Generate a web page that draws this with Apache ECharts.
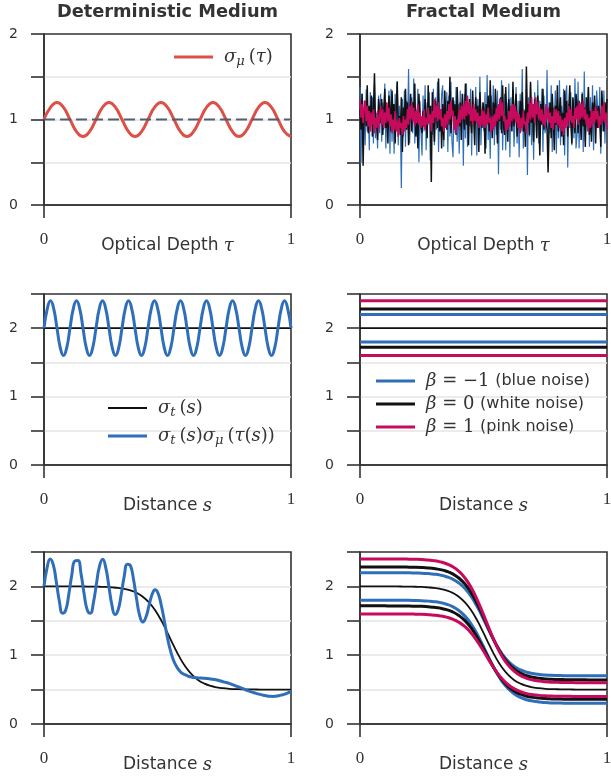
<!DOCTYPE html>
<html><head><meta charset="utf-8">
<script src="https://cdn.jsdelivr.net/npm/echarts@6/dist/echarts.min.js"></script>
<style>html,body{margin:0;padding:0;background:#fff}#c{width:611px;height:780px}</style>
</head><body><div id="c"></div>
<script>
// ---------- data ----------
// sigma_mu(tau), sampled every 1/38 in tau
const SIGMA_MU = [
 1,1.141,1.2,1.141,1,0.859,0.8,0.859,
 1,1.141,1.2,1.141,1,0.859,0.8,0.859,
 1,1.141,1.2,1.141,1,0.859,0.8,0.859,
 1,1.141,1.2,1.141,1,0.859,0.8,0.859,
 1,1.141,1.2,1.141,1,0.859,0.8];
const SIGMA_MU_REF = 1;
// sigma_t(s) sigma_mu(tau(s)) for constant sigma_t, sampled every 1/76 in s
const MID_PRODUCT = [
 2,2.283,2.4,2.283,2,1.717,1.6,1.717,
 2,2.283,2.4,2.283,2,1.717,1.6,1.717,
 2,2.283,2.4,2.283,2,1.717,1.6,1.717,
 2,2.283,2.4,2.283,2,1.717,1.6,1.717,
 2,2.283,2.4,2.283,2,1.717,1.6,1.717,
 2,2.283,2.4,2.283,2,1.717,1.6,1.717,
 2,2.283,2.4,2.283,2,1.717,1.6,1.717,
 2,2.283,2.4,2.283,2,1.717,1.6,1.717,
 2,2.283,2.4,2.283,2,1.717,1.6,1.717,
 2,2.283,2.4,2.283,2];
const SIGMA_T_CONST = 2.0;
// fractal noise samples (240 each, evenly spaced in tau)
const NOISE_BLUE = [
 1.38,0.49,1.30,0.82,1.22,0.70,1.35,0.86,1.14,0.64,
 1.32,0.95,1.26,0.72,1.42,0.78,1.08,0.66,1.28,0.84,
 1.30,0.74,1.20,0.88,1.42,0.66,1.16,0.92,1.34,0.60,
 1.36,0.74,1.18,0.60,1.30,0.90,1.45,0.70,1.16,0.98,
 0.20,1.24,0.80,1.34,0.68,1.22,0.92,1.59,0.72,1.10,
 1.26,0.84,1.48,0.72,1.12,0.96,1.36,0.50,1.22,0.86,
 0.58,1.28,0.86,1.40,0.64,1.20,0.94,1.32,0.52,1.16,
 0.82,1.36,0.70,1.26,0.88,1.44,0.62,1.12,0.96,1.30,
 1.40,0.68,1.18,0.90,1.32,0.62,1.28,0.80,1.44,0.74,
 0.56,1.22,0.84,1.38,0.74,1.18,0.60,1.34,0.90,1.24,
 0.46,1.30,0.78,1.42,0.68,1.14,0.92,1.36,0.58,1.20,
 1.14,0.94,1.38,0.58,1.24,0.82,1.50,0.70,1.10,0.98,
 0.86,1.32,0.66,1.52,0.76,1.10,0.54,1.28,0.94,1.40,
 0.70,1.18,0.82,1.34,0.36,1.24,0.88,1.46,0.64,1.16,
 1.30,0.64,1.20,0.86,1.42,0.56,1.26,0.92,1.34,0.68,
 0.96,1.38,0.72,1.22,0.56,1.30,0.86,1.59,0.66,1.12,
 0.90,1.36,0.35,1.26,0.80,1.42,0.70,1.18,0.53,1.32,
 1.16,0.80,1.46,0.72,1.22,0.96,1.36,0.62,1.28,0.84,
 0.92,1.58,0.68,1.20,0.84,1.40,0.62,1.14,0.98,1.34,
 0.60,1.24,0.78,1.46,0.70,1.16,0.88,1.36,0.58,1.28,
 1.40,0.44,1.18,0.90,1.32,0.70,1.24,0.78,1.48,0.66,
 0.82,1.44,0.66,1.20,0.94,1.32,0.62,1.56,0.74,1.18,
 0.86,1.38,0.68,1.26,0.80,1.40,0.64,1.22,0.90,1.34,
 1.12,0.94,1.38,0.60,1.26,0.86,1.34,0.72,1.20,0.88];
const NOISE_WHITE = [
 1.12,0.88,1.30,0.46,1.05,1.22,0.92,1.40,0.84,1.16,
 0.98,1.28,0.80,1.10,1.54,0.90,1.02,0.76,1.24,1.08,
 0.96,1.24,0.82,1.10,1.36,0.90,1.04,0.72,1.28,1.14,
 0.86,1.34,0.96,1.18,0.72,1.12,1.44,0.94,1.04,0.82,
 1.26,0.62,1.14,0.98,1.36,0.88,1.20,0.70,1.06,1.30,
 0.86,1.20,0.98,1.42,0.80,1.08,0.66,1.30,1.02,0.92,
 0.84,1.10,0.92,1.24,1.02,0.78,1.40,0.96,1.16,0.27,
 1.32,1.00,0.74,1.22,1.08,0.90,1.48,0.86,1.12,0.66,
 1.18,0.76,1.34,1.06,0.88,1.22,0.94,1.50,0.84,1.12,
 1.26,0.98,1.18,0.82,1.38,1.04,0.92,1.20,0.76,1.30,
 1.06,0.88,1.42,0.94,1.14,0.70,1.24,1.00,0.84,1.34,
 1.00,0.70,1.26,0.96,1.16,0.62,1.32,1.08,0.90,1.20,
 1.10,0.60,1.18,0.96,1.28,0.86,1.46,1.02,0.78,1.20,
 0.92,1.36,1.08,0.72,1.16,0.98,1.26,0.84,1.40,0.90,
 0.82,1.38,1.04,0.74,1.24,0.98,1.14,0.86,1.44,0.92,
 1.12,1.30,0.80,1.04,0.90,1.22,0.94,1.32,0.86,1.10,
 0.68,1.62,1.00,1.18,0.82,1.44,0.96,1.14,0.74,1.24,
 1.10,0.78,1.28,1.02,0.58,1.18,0.94,1.36,0.88,1.06,
 1.06,0.88,0.38,0.92,1.20,0.78,1.30,1.02,0.64,1.16,
 0.94,1.40,0.86,1.12,1.26,0.80,1.08,0.70,1.34,0.98,
 1.22,0.80,1.12,1.40,0.96,0.72,1.26,1.04,0.84,1.30,
 1.18,0.84,1.22,1.04,0.76,1.30,0.92,1.14,0.68,1.26,
 1.00,1.38,0.82,1.10,0.74,1.20,0.96,1.28,0.72,1.16,
 0.90,1.16,1.00,0.68,1.34,1.08,0.86,1.20,0.98,1.24];
const NOISE_PINK = [
 1.24,1.02,1.18,0.96,1.14,1.22,0.98,1.16,0.92,1.10,
 0.86,1.08,0.94,1.12,0.84,1.02,0.90,1.10,0.88,1.04,
 1.16,0.94,1.12,0.90,1.08,0.96,1.20,0.98,1.14,0.92,
 1.06,0.84,1.00,0.88,1.10,0.86,0.98,0.80,1.02,0.90,
 0.96,0.82,1.04,0.86,1.00,0.90,1.12,0.94,1.16,1.00,
 1.20,0.98,1.14,0.92,1.10,0.96,1.18,0.94,1.08,0.90,
 1.04,0.92,1.12,0.88,1.02,0.94,1.14,0.96,1.06,0.86,
 1.10,0.96,1.24,1.02,1.16,0.98,1.20,1.00,1.12,0.92,
 1.02,0.86,1.06,0.90,1.10,0.94,1.18,1.00,1.22,1.04,
 1.10,0.88,1.04,0.84,1.00,0.92,1.12,0.96,1.16,1.00,
 1.18,1.00,1.22,1.04,1.28,1.06,1.20,0.98,1.14,0.94,
 1.18,0.98,1.12,0.96,1.08,0.90,1.04,0.92,1.12,0.94,
 1.10,0.90,1.06,0.94,1.14,0.96,1.02,0.84,1.04,0.88,
 1.06,0.92,1.14,0.98,1.18,1.00,1.24,1.04,1.20,0.98,
 1.04,0.86,1.00,0.88,1.10,0.92,1.16,0.98,1.18,1.00,
 1.16,0.96,1.10,0.90,1.06,0.84,1.02,0.90,1.10,0.94,
 0.98,0.84,1.08,0.96,1.20,1.00,1.26,1.02,1.18,0.96,
 1.26,1.06,1.20,1.00,1.14,0.98,1.12,0.94,1.06,0.92,
 1.18,1.00,1.14,0.96,1.08,0.90,1.04,0.88,1.12,0.96,
 1.12,0.94,1.10,0.90,1.04,0.86,1.00,0.82,1.02,0.90,
 1.08,0.92,1.16,0.98,1.12,0.96,1.04,0.90,1.14,1.00,
 1.16,0.94,1.20,1.00,1.18,1.02,1.22,1.00,1.12,0.94,
 1.06,0.86,1.02,0.90,1.12,0.92,1.10,0.96,1.16,1.00,
 1.10,0.90,1.04,0.94,1.16,0.98,1.20,0.96,1.08,0.88];
// bounds of sigma_t * sigma_mu for constant sigma_t
const LEVELS_BLUE = [2.2, 1.8];
const LEVELS_WHITE = [2.28, 1.72];
const LEVELS_PINK = [2.4, 1.6];
// step medium, sampled every 0.025 in s
const STEP_SIGMA_T = [2.0,2.0,2.0,2.0,2.0,1.999,1.999,1.998,1.997,1.995,1.992,1.986,1.978,1.964,1.941,1.906,1.850,1.768,1.653,1.502,1.325,1.138,0.965,0.821,0.713,0.637,0.586,0.553,0.533,0.520,0.512,0.507,0.505,0.503,0.502,0.501,0.501,0.5,0.5,0.5,0.5];
const STEP_PINK_HI = [2.4,2.4,2.4,2.4,2.4,2.399,2.399,2.398,2.396,2.394,2.39,2.383,2.374,2.357,2.329,2.287,2.22,2.122,1.984,1.802,1.59,1.366,1.158,0.985,0.856,0.764,0.703,0.664,0.64,0.624,0.614,0.608,0.606,0.604,0.602,0.601,0.601,0.6,0.6,0.6,0.6];
const STEP_PINK_LO = [1.6,1.6,1.6,1.6,1.6,1.599,1.599,1.598,1.598,1.596,1.594,1.589,1.582,1.571,1.553,1.525,1.48,1.414,1.322,1.202,1.06,0.910,0.772,0.657,0.570,0.510,0.469,0.442,0.426,0.416,0.410,0.406,0.404,0.402,0.402,0.401,0.401,0.4,0.4,0.4,0.4];
const STEP_BLUE_HI = [2.2,2.2,2.2,2.2,2.2,2.199,2.199,2.198,2.197,2.195,2.192,2.186,2.178,2.164,2.141,2.106,2.05,1.968,1.853,1.702,1.525,1.338,1.165,1.021,0.913,0.837,0.786,0.753,0.733,0.72,0.712,0.707,0.705,0.703,0.702,0.701,0.701,0.7,0.7,0.7,0.7];
const STEP_BLUE_LO = [1.8,1.8,1.8,1.8,1.8,1.799,1.799,1.798,1.797,1.795,1.792,1.786,1.778,1.764,1.741,1.706,1.65,1.568,1.453,1.302,1.125,0.938,0.765,0.621,0.513,0.437,0.386,0.353,0.333,0.32,0.312,0.307,0.305,0.303,0.302,0.301,0.301,0.3,0.3,0.3,0.3];
const STEP_WHITE_HI = [2.283,2.283,2.283,2.283,2.283,2.282,2.282,2.281,2.280,2.278,2.274,2.268,2.259,2.244,2.220,2.182,2.122,2.034,1.910,1.747,1.555,1.351,1.161,1.002,0.882,0.797,0.739,0.702,0.679,0.664,0.655,0.649,0.647,0.645,0.644,0.643,0.643,0.641,0.641,0.641,0.641];
const STEP_WHITE_LO = [1.717,1.717,1.717,1.717,1.717,1.716,1.716,1.715,1.714,1.712,1.710,1.704,1.697,1.684,1.662,1.630,1.578,1.502,1.396,1.257,1.095,0.925,0.769,0.640,0.544,0.477,0.433,0.404,0.387,0.376,0.369,0.365,0.363,0.361,0.360,0.359,0.359,0.359,0.359,0.359,0.359];
// sigma_t(s) sigma_mu(tau(s)) for the step medium, sampled every 0.0125 in s
const STEP_PRODUCT = [
 2.0,2.272,2.399,2.315,2.063,1.778,1.611,1.650,1.876,2.167,
 2.370,2.375,2.182,1.891,1.659,1.608,1.762,2.043,2.298,2.393,
 2.274,2.006,1.729,1.590,1.658,1.878,2.151,2.322,2.301,2.099,
 1.812,1.574,1.481,1.551,1.719,1.882,1.953,1.894,1.722,1.494,
 1.25,1.06,0.92,0.83,0.77,0.73,0.71,0.69,
 0.68,0.675,0.67,0.667,0.665,0.66,0.655,0.648,0.64,0.628,0.615,0.603,0.59,0.573,0.555,0.538,0.52,0.502,0.485,0.47,0.455,0.442,0.43,0.419,0.41,0.403,0.40,0.403,0.41,0.421,0.435,0.452,0.47];
const X_TICKS = [0, 1];
const Y_MAX_TOP = 2, Y_MAX_LOW = 2.5;

// ---------- styling ----------
const FRAME = '#333333', GRIDC = '#e4e4e4';
const RED = '#dd5048', BLUE = '#2f6fba', PINK = '#c80a5c', BLACK = '#111111', SLATE = '#4f6070';
const even = arr => arr.map((v, i) => [i / (arr.length - 1), v]);
const flat = v => [[0, v], [1, v]];

const GRIDS = [
  {left: 44, top: 34, width: 247, height: 171},
  {left: 360, top: 34, width: 247, height: 171},
  {left: 44, top: 294, width: 247, height: 171},
  {left: 360, top: 294, width: 247, height: 171},
  {left: 44, top: 552, width: 247, height: 172},
  {left: 360, top: 552, width: 247, height: 172}
].map(g => Object.assign({show: true, borderColor: FRAME, borderWidth: 1.6, backgroundColor: 'transparent', containLabel: false, outerBoundsMode: 'none'}, g));

const NAMES = ['Optical Depth {i|τ}', 'Optical Depth {i|τ}', 'Distance {i|s}', 'Distance {i|s}', 'Distance {i|s}', 'Distance {i|s}'];
const xAxes = GRIDS.map((g, k) => ({
  type: 'value', gridIndex: k, min: X_TICKS[0], max: X_TICKS[1], interval: 1,
  axisLine: {show: true, lineStyle: {color: FRAME, width: 1.6}},
  axisTick: {show: true, length: 13, lineStyle: {color: FRAME, width: 1.6}},
  axisLabel: {fontFamily: 'Liberation Serif', fontSize: 17, color: '#333', margin: 26},
  splitLine: {show: false},
  name: NAMES[k], nameLocation: 'middle', nameGap: 32, nameMoveOverlap: false,
  nameTextStyle: {fontFamily: 'DejaVu Sans', fontSize: 17, color: '#333',
    rich: {i: {fontFamily: 'DejaVu Serif', fontStyle: 'italic', fontSize: 18, color: '#333'}}}
}));
const yAxes = GRIDS.map((g, k) => ({
  type: 'value', gridIndex: k, min: 0, max: k < 2 ? Y_MAX_TOP : Y_MAX_LOW, interval: 0.5,
  axisLine: {show: true, lineStyle: {color: FRAME, width: 1.6}},
  axisTick: {show: true, length: 13, lineStyle: {color: FRAME, width: 1.6}},
  axisLabel: {fontFamily: 'DejaVu Sans', fontSize: 14, color: '#333', margin: 26,
    formatter: v => (Number.isInteger(v) ? String(v) : '')},
  splitLine: {show: true, showMinLine: false, showMaxLine: false, lineStyle: {color: GRIDC, width: 1.5}}
}));

function line(name, k, data, color, width, extra) {
  return Object.assign({type: 'line', name, xAxisIndex: k, yAxisIndex: k, data, symbol: 'none', showSymbol: false,
    lineStyle: {color, width}, itemStyle: {color}, silent: true, animation: false}, extra || {});
}
const SM = {smooth: 0.5};

const series = [
  line('sm', 0, even(SIGMA_MU), RED, 3, SM),
  line('ref', 0, flat(SIGMA_MU_REF), SLATE, 2, {lineStyle: {color: SLATE, width: 2, type: [11, 5]}}),

  line('nb', 1, even(NOISE_BLUE), BLUE, 1.2),
  line('nw', 1, even(NOISE_WHITE), BLACK, 1.5),
  line('np', 1, even(NOISE_PINK), PINK, 1.6),

  line('st', 2, flat(SIGMA_T_CONST), BLACK, 1.8),
  line('stsm', 2, even(MID_PRODUCT), BLUE, 3, SM),

  line('st', 3, flat(SIGMA_T_CONST), BLACK, 1.8),
  line('b-1', 3, flat(LEVELS_BLUE[0]), BLUE, 3),
  line('b-1', 3, flat(LEVELS_BLUE[1]), BLUE, 3),
  line('b0', 3, flat(LEVELS_WHITE[0]), BLACK, 3),
  line('b0', 3, flat(LEVELS_WHITE[1]), BLACK, 3),
  line('b1', 3, flat(LEVELS_PINK[0]), PINK, 3),
  line('b1', 3, flat(LEVELS_PINK[1]), PINK, 3),

  line('st', 4, even(STEP_SIGMA_T), BLACK, 1.8, SM),
  line('stsm', 4, even(STEP_PRODUCT), BLUE, 3, SM),

  line('st', 5, even(STEP_SIGMA_T), BLACK, 1.8, SM),
  line('b-1', 5, even(STEP_BLUE_HI), BLUE, 3, SM),
  line('b-1', 5, even(STEP_BLUE_LO), BLUE, 3, SM),
  line('b0', 5, even(STEP_WHITE_HI), BLACK, 3, SM),
  line('b0', 5, even(STEP_WHITE_LO), BLACK, 3, SM),
  line('b1', 5, even(STEP_PINK_HI), PINK, 3, SM),
  line('b1', 5, even(STEP_PINK_LO), PINK, 3, SM)
];

const RICH = {
  sp: {width: 6, fontSize: 10, lineHeight: 22},
  g: {width: 4, fontSize: 10, lineHeight: 22},
  i: {fontFamily: 'DejaVu Serif', fontStyle: 'italic', fontSize: 18, color: '#333', lineHeight: 22},
  r: {fontFamily: 'DejaVu Serif', fontSize: 18, color: '#333', lineHeight: 22},
  sub: {fontFamily: 'DejaVu Serif', fontStyle: 'italic', fontSize: 13, color: '#333', lineHeight: 12, verticalAlign: 'bottom'},
  t: {fontFamily: 'DejaVu Sans', fontSize: 16, color: '#333', lineHeight: 22}
};
const LEG = {
  'sm': '{sp| }{i|σ}{sub|μ}{g| }{r|(}{i|τ}{r|)}',
  'st': '{sp| }{i|σ}{sub|t}{g| }{r|(}{i|s}{r|)}',
  'stsm': '{sp| }{i|σ}{sub|t}{g| }{r|(}{i|s}{r|)}{i|σ}{sub|μ}{g| }{r|(}{i|τ}{r|(}{i|s}{r|))}',
  'b-1': '{sp| }{i|β}{r| = −1 }{t|(blue noise)}',
  'b0': '{sp| }{i|β}{r| = 0 }{t|(white noise)}',
  'b1': '{sp| }{i|β}{r| = 1 }{t|(pink noise)}'
};
function legend(data, left, top, h, gap) {
  return {data, left, top, orient: 'vertical', padding: 0, itemGap: gap || 5, itemWidth: 39, itemHeight: h,
    icon: 'rect', itemStyle: {borderWidth: 0}, selectedMode: false,
    formatter: n => LEG[n], textStyle: {rich: RICH}};
}

const chart = echarts.init(document.getElementById('c'), null, {renderer: 'canvas'});
chart.setOption({
  animation: false,
  backgroundColor: '#ffffff',
  title: [
    {text: 'Deterministic Medium', left: 167.5, top: 3, textAlign: 'center', padding: 0,
      textStyle: {fontFamily: 'DejaVu Sans', fontWeight: 'bold', fontSize: 17.8, color: '#333'}},
    {text: 'Fractal Medium', left: 483.5, top: 3, textAlign: 'center', padding: 0,
      textStyle: {fontFamily: 'DejaVu Sans', fontWeight: 'bold', fontSize: 17.8, color: '#333'}}
  ],
  legend: [
    legend(['sm'], 174, 48, 3),
    legend(['st'], 108, 399, 1.8),
    legend(['stsm'], 108, 427, 3),
    legend(['b-1', 'b0', 'b1'], 376, 372, 3, 5)
  ],
  grid: GRIDS,
  xAxis: xAxes,
  yAxis: yAxes,
  series
});
</script></body></html>
